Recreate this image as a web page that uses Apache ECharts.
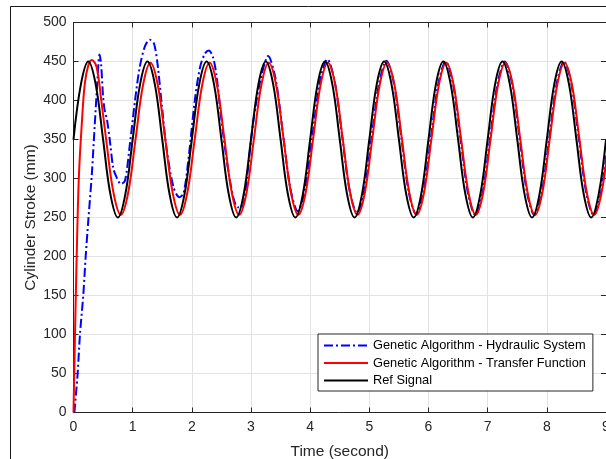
<!DOCTYPE html>
<html>
<head>
<meta charset="utf-8">
<style>
html,body{margin:0;padding:0;background:#fff;}
#chart{width:606px;height:459px;}
</style>
<script src="https://cdn.jsdelivr.net/npm/echarts@6/dist/echarts.min.js"></script>
</head>
<body>
<div id="chart"></div>
<script>
// ---------- data ----------
var seriesNames = ['Genetic Algorithm - Hydraulic System', 'Genetic Algorithm - Transfer Function', 'Ref Signal'];
var xTicks = [0,1,2,3,4,5,6,7,8,9];
var yTicks = [0,50,100,150,200,250,300,350,400,450,500];

// Ref Signal
var refTime = [0,0.125,0.25,0.375,0.5,0.625,0.75,0.875,1,1.125,1.25,1.375,1.5,1.625,1.75,1.875,2,2.125,2.25,2.375,2.5,2.625,2.75,2.875,3,3.125,3.25,3.375,3.5,3.625,3.75,3.875,4,4.125,4.25,4.375,4.5,4.625,4.75,4.875,5,5.125,5.25,5.375,5.5,5.625,5.75,5.875,6,6.125,6.25,6.375,6.5,6.625,6.75,6.875,7,7.125,7.25,7.375,7.5,7.625,7.75,7.875,8,8.125,8.25,8.375,8.5,8.625,8.75,8.875,9];
var refValue = [350,420.7,450,420.7,350,279.3,250,279.3,
                350,420.7,450,420.7,350,279.3,250,279.3,
                350,420.7,450,420.7,350,279.3,250,279.3,
                350,420.7,450,420.7,350,279.3,250,279.3,
                350,420.7,450,420.7,350,279.3,250,279.3,
                350,420.7,450,420.7,350,279.3,250,279.3,
                350,420.7,450,420.7,350,279.3,250,279.3,
                350,420.7,450,420.7,350,279.3,250,279.3,
                350,420.7,450,420.7,350,279.3,250,279.3,
                350];

// Genetic Algorithm - Transfer Function
var tfTime = [0,0.03,0.064,0.093,0.14,0.19,0.25,0.31,0.39,0.47,
              0.55,0.675,0.8,0.925,1.05,1.175,1.3,1.425,1.55,1.675,1.8,1.925,
              2.05,2.175,2.3,2.425,2.55,2.675,2.8,2.925,
              3.05,3.175,3.3,3.425,3.55,3.675,3.8,3.925,
              4.05,4.175,4.3,4.425,4.55,4.675,4.8,4.925,
              5.05,5.175,5.3,5.425,5.55,5.675,5.8,5.925,
              6.05,6.175,6.3,6.425,6.55,6.675,6.8,6.925,
              7.05,7.175,7.3,7.425,7.55,7.675,7.8,7.925,
              8.05,8.175,8.3,8.425,8.55,8.675,8.8,8.925,9.05];
var tfValue = [0,118,233,306,370,421,445,452,443,400,
               351,282.1,253.5,282.1,351,419.9,448.5,419.9,351,282.1,253.5,282.1,
               351,419.9,448.5,419.9,351,282.1,253.5,282.1,
               351,419.9,448.5,419.9,351,282.1,253.5,282.1,
               351,419.9,448.5,419.9,351,282.1,253.5,282.1,
               351,419.9,448.5,419.9,351,282.1,253.5,282.1,
               351,419.9,448.5,419.9,351,282.1,253.5,282.1,
               351,419.9,448.5,419.9,351,282.1,253.5,282.1,
               351,419.9,448.5,419.9,351,282.1,253.5,282.1,351];

// Genetic Algorithm - Hydraulic System
var hydTime = [0.015,0.07,0.11,0.165,0.205,0.25,0.31,0.36,0.40,0.44,0.465,0.50,0.53,0.565,0.62,0.67,0.72,0.80,0.87,0.95,
               1.04,1.12,1.21,1.29,1.36,1.42,1.49,1.57,1.69,1.79,1.86,1.94,
               2.05,2.14,2.22,2.29,2.36,2.42,2.48,2.59,2.70,2.78,2.86,2.93,
               3.04,3.165,3.29,3.415,3.54,3.665,3.79,3.915,
               4.04,4.165,4.29,4.415,4.54,4.665,4.79,4.915,
               5.04,5.165,5.29,5.415,5.54,5.665,5.79,5.915,
               6.04,6.165,6.29,6.415,6.54,6.665,6.79,6.915,
               7.04,7.165,7.29,7.415,7.54,7.665,7.79,7.915,
               8.04,8.165,8.29,8.415,8.54,8.665,8.79,8.915,9.04];
var hydValue = [0,50,101,150,199,246,306,370,420,459,448,405,386,376,345,314,303,293,297,342,
                400,443,470,478,473,447,396,340,289,276,281,323,
                400,443,460,464,455,430,388,323,276,263,264,300,
                374,428,457,427.9,357.5,287.1,258,286.6,
                355.5,424.4,453,424.1,354.5,284.9,256,284.6,
                353.5,422.4,451,422.1,352.5,282.9,254,282.7,
                352,421.3,450,421.1,351.5,281.9,253,281.9,
                351.5,421.1,450,421.1,351.5,281.9,253,281.9,
                351.5,421.1,450,421.1,351.5,281.9,253,281.9,351.5];

function pairs(t, v) { var out = []; for (var i = 0; i < t.length; i++) out.push([t[i], v[i]]); return out; }

var FONT = 'Liberation Sans, Arial, Helvetica, sans-serif';
var AX = '#262626';
var GRIDC = '#e3e3e3';

var chart = echarts.init(document.getElementById('chart'), null, {renderer: 'canvas'});
chart.setOption({
  backgroundColor: '#ffffff',
  animation: false,
  textStyle: {fontFamily: FONT},
  grid: {left: 73.5, right: 0, top: 22.5, bottom: 46.5, containLabel: false, outerBoundsMode: 'none'},
  graphic: [{
    type: 'rect', silent: true, z: 100,
    shape: {x: 10.5, y: 6.5, width: 800, height: 600},
    style: {fill: 'none', stroke: '#1a1a1a', lineWidth: 1}
  }],
  legend: {
    orient: 'vertical', left: 318, top: 334,
    data: seriesNames,
    itemWidth: 44, itemHeight: 14, itemGap: 4.5,
    padding: [5, 7, 4, 5],
    borderColor: AX, borderWidth: 1, backgroundColor: '#ffffff',
    itemStyle: {opacity: 0},
    textStyle: {fontSize: 12.8, color: '#000', fontFamily: FONT}
  },
  xAxis: [{
    type: 'value', min: 0, max: 9, interval: 1, position: 'bottom',
    name: 'Time (second)', nameLocation: 'middle', nameGap: 31, nameMoveOverlap: false,
    nameTextStyle: {fontSize: 15.5, color: AX, fontFamily: FONT},
    axisLine: {show: true, onZero: false, lineStyle: {color: AX, width: 1}},
    axisTick: {show: true, inside: true, length: 5, lineStyle: {color: AX}},
    axisLabel: {show: true, fontSize: 14, color: AX, margin: 8, fontFamily: FONT,
      formatter: function (v) { return xTicks.indexOf(v) >= 0 ? String(v) : ''; }},
    splitLine: {show: true, lineStyle: {color: GRIDC, width: 1}}
  }, {
    type: 'value', min: 0, max: 9, interval: 1, position: 'top',
    axisLine: {show: true, onZero: false, lineStyle: {color: AX, width: 1}},
    axisTick: {show: true, inside: true, length: 5, lineStyle: {color: AX}},
    axisLabel: {show: false}, splitLine: {show: false}
  }],
  yAxis: [{
    type: 'value', min: 0, max: 500, interval: 50, position: 'left',
    name: 'Cylinder Stroke (mm)', nameLocation: 'middle', nameGap: 35, nameMoveOverlap: false,
    nameTextStyle: {fontSize: 15.5, color: AX, fontFamily: FONT},
    axisLine: {show: true, onZero: false, lineStyle: {color: AX, width: 1}},
    axisTick: {show: true, inside: true, length: 5, lineStyle: {color: AX}},
    axisLabel: {show: true, fontSize: 14, color: AX, margin: 7, fontFamily: FONT,
      formatter: function (v) { return yTicks.indexOf(v) >= 0 ? String(v) : ''; }},
    splitLine: {show: true, lineStyle: {color: GRIDC, width: 1}}
  }, {
    type: 'value', min: 0, max: 500, interval: 50, position: 'right',
    axisLine: {show: true, onZero: false, lineStyle: {color: AX, width: 1}},
    axisTick: {show: true, inside: true, length: 5, lineStyle: {color: AX}},
    axisLabel: {show: false}, splitLine: {show: false}
  }],
  series: [{
    name: seriesNames[0], type: 'line', xAxisIndex: 0, yAxisIndex: 0,
    data: pairs(hydTime, hydValue), symbol: 'none', smooth: 0.3,
    lineStyle: {color: '#0000ff', width: 2, type: [9, 3, 2, 3]},
    itemStyle: {color: '#0000ff'}
  }, {
    name: seriesNames[1], type: 'line', xAxisIndex: 0, yAxisIndex: 0,
    data: pairs(tfTime, tfValue), symbol: 'none', smooth: 0.35,
    lineStyle: {color: '#ff0000', width: 2},
    itemStyle: {color: '#ff0000'}
  }, {
    name: seriesNames[2], type: 'line', xAxisIndex: 0, yAxisIndex: 0,
    data: pairs(refTime, refValue), symbol: 'none', smooth: 0.37,
    lineStyle: {color: '#000000', width: 2},
    itemStyle: {color: '#000000'}
  }]
});
</script>
</body>
</html>
